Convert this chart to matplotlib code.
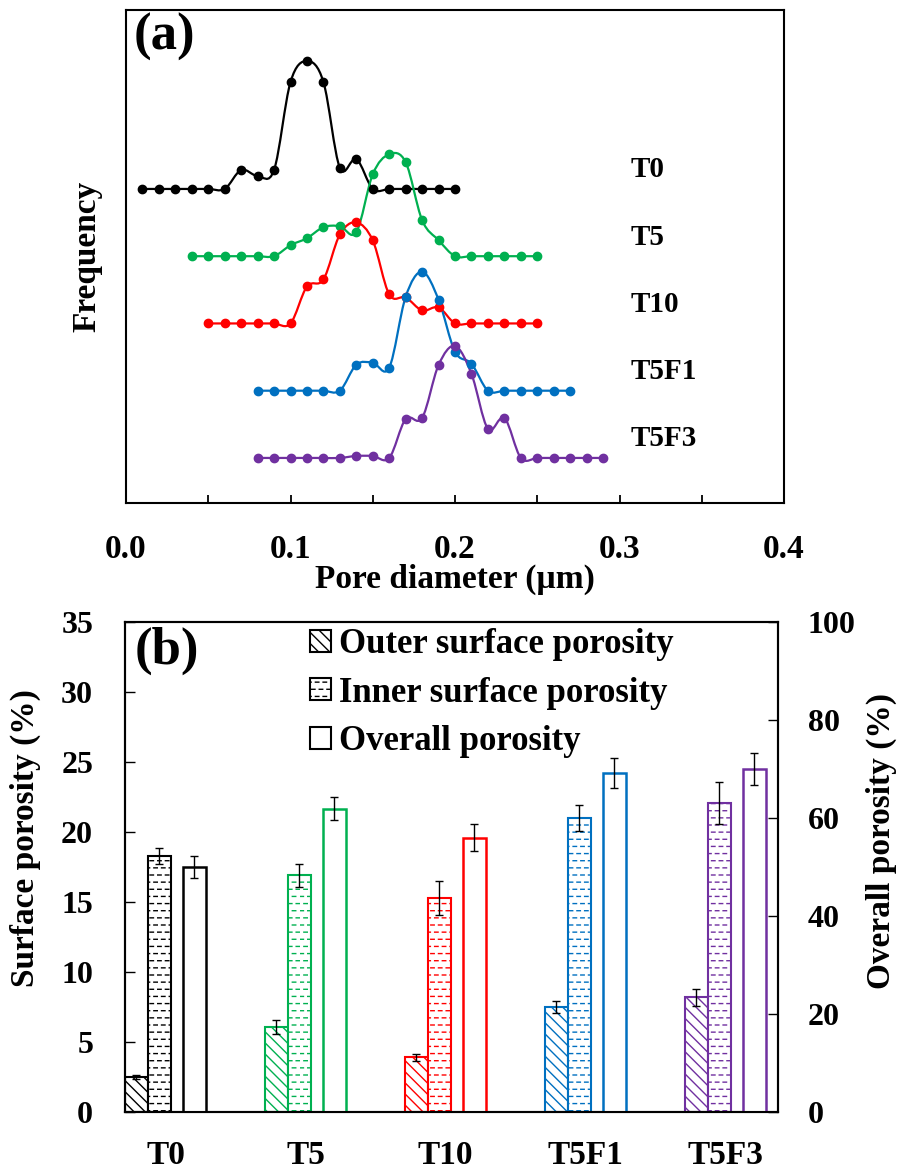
import numpy as np
import matplotlib
matplotlib.use('Agg')
from matplotlib import pyplot as plt
import matplotlib.hatch as mhatch
from matplotlib.path import Path
from matplotlib.patches import PathPatch, Patch

plt.rcParams['font.family'] = ['Liberation Serif', 'DejaVu Serif']
plt.rcParams['font.weight'] = 'bold'
plt.rcParams['axes.labelweight'] = 'bold'
plt.rcParams['hatch.linewidth'] = 1.0

# ---------------- panel (a): pore size distribution ----------------
samples = ['T0', 'T5', 'T10', 'T5F1', 'T5F3']
colors = ['#000000', '#00B050', '#FF0000', '#0070C0', '#7030A0']

d_T0 = [0.01, 0.02, 0.03, 0.04, 0.05, 0.06, 0.07, 0.08, 0.09, 0.10,
        0.11, 0.12, 0.13, 0.14, 0.15, 0.16, 0.17, 0.18, 0.19, 0.20]
f_T0 = [0, 0, 0, 0, 0, 0, 19, 13, 19, 107, 128, 107, 21, 30, 0, 0, 0, 0, 0, 0]

d_T5 = [0.04, 0.05, 0.06, 0.07, 0.08, 0.09, 0.10, 0.11, 0.12, 0.13, 0.14,
        0.15, 0.16, 0.17, 0.18, 0.19, 0.20, 0.21, 0.22, 0.23, 0.24, 0.25]
f_T5 = [0, 0, 0, 0, 0, 0, 11, 18, 29, 30, 24, 82, 102, 94, 36, 16, 0, 0, 0, 0, 0, 0]

d_T10 = [0.05, 0.06, 0.07, 0.08, 0.09, 0.10, 0.11, 0.12, 0.13, 0.14, 0.15,
         0.16, 0.17, 0.18, 0.19, 0.20, 0.21, 0.22, 0.23, 0.24, 0.25]
f_T10 = [0, 0, 0, 0, 0, 0, 37, 44, 89, 101, 83, 29, 26, 13, 16, 0, 0, 0, 0, 0, 0]

d_T5F1 = [0.08, 0.09, 0.10, 0.11, 0.12, 0.13, 0.14, 0.15, 0.16, 0.17,
          0.18, 0.19, 0.20, 0.21, 0.22, 0.23, 0.24, 0.25, 0.26, 0.27]
f_T5F1 = [0, 0, 0, 0, 0, 0, 26, 28, 23, 94, 119, 91, 39, 27, 0, 0, 0, 0, 0, 0]

d_T5F3 = [0.08, 0.09, 0.10, 0.11, 0.12, 0.13, 0.14, 0.15, 0.16, 0.17, 0.18,
          0.19, 0.20, 0.21, 0.22, 0.23, 0.24, 0.25, 0.26, 0.27, 0.28, 0.29]
f_T5F3 = [0, 0, 0, 0, 0, 0, 2, 2, 0, 39, 40, 93, 112, 84, 29, 40, 0, 0, 0, 0, 0, 0]

diameters = [d_T0, d_T5, d_T10, d_T5F1, d_T5F3]
freqs = [f_T0, f_T5, f_T10, f_T5F1, f_T5F3]
offsets = [314, 246.75, 179.5, 112.25, 45]

# ---------------- panel (b): porosity ----------------
outer = [2.5, 6.1, 3.9, 7.5, 8.2]
outer_err = [0.15, 0.5, 0.25, 0.45, 0.6]
inner = [18.3, 16.9, 15.3, 21.0, 22.1]
inner_err = [0.55, 0.8, 1.2, 0.95, 1.5]
overall = [50.0, 61.9, 56.0, 69.2, 70.0]
overall_err = [2.2, 2.4, 2.8, 3.0, 3.2]


# dashed horizontal hatch (like the office "dashed horizontal" pattern)
class DashRows(mhatch.HatchPatternBase):
    def __init__(self, hatch, density):
        self.num_rows = int(round(hatch.count('-') * density * 1.2))
        if self.num_rows % 2:
            self.num_rows += 1
        self.num_dash = 13
        self.num_lines = self.num_rows * self.num_dash if self.num_rows else 0
        self.num_vertices = self.num_lines * 2

    def set_vertices_and_codes(self, vertices, codes):
        m = self.num_dash
        i = 0
        for r in range(self.num_rows):
            yy = (r + 0.5) / self.num_rows
            shift = 0.5 * (r % 2)
            for k in range(m):
                x0 = (k + shift) / m
                vertices[i] = (x0, yy)
                vertices[i + 1] = (x0 + 0.45 / m, yy)
                codes[i] = Path.MOVETO
                codes[i + 1] = Path.LINETO
                i += 2


mhatch._hatch_types = [DashRows if t is mhatch.HorizontalHatch else t
                       for t in mhatch._hatch_types]


def smooth_path(x, y):
    # smoothed line through the points (cubic bezier, catmull-rom style)
    pts = np.column_stack([x, y]).astype(float)
    n = len(pts)
    verts = [pts[0]]
    codes = [Path.MOVETO]
    for i in range(n - 1):
        p0 = pts[i - 1] if i > 0 else pts[i]
        p1 = pts[i]
        p2 = pts[i + 1]
        p3 = pts[i + 2] if i + 2 < n else pts[i + 1]
        verts += [p1 + (p2 - p0) / 6, p2 - (p3 - p1) / 6, p2]
        codes += [Path.CURVE4] * 3
    return Path(verts, codes)


fig = plt.figure(figsize=(9.04, 11.71), dpi=100)

ax = fig.add_axes([0.1394, 0.5705, 0.7279, 0.4210])
for name, c, d, f, off in zip(samples, colors, diameters, freqs, offsets):
    yy = np.array(f) + off
    ax.add_patch(PathPatch(smooth_path(d, yy), facecolor='none', edgecolor=c, lw=1.6))
    ax.plot(d, yy, 'o', color=c, ms=6, ls='none')
    ax.text(0.307, off + 19, name, fontsize=21, ha='left', va='center')

ax.set_xlim(0, 0.4)
ax.set_ylim(0, 493)
ax.set_xticks([0.0, 0.1, 0.2, 0.3, 0.4])
ax.set_xticklabels(['0.0', '0.1', '0.2', '0.3', '0.4'])
ax.set_xticks([0.05, 0.15, 0.25, 0.35], minor=True)
ax.set_yticks([])
ax.tick_params(axis='x', which='both', direction='in', length=6, width=1.3,
               labelsize=24, pad=22)
ax.set_xlabel('Pore diameter (µm)', fontsize=24)
ax.xaxis.set_label_coords(0.5, -0.124)
ax.set_ylabel('Frequency', fontsize=24)
ax.yaxis.set_label_coords(-0.036, 0.5)
for s in ax.spines.values():
    s.set_linewidth(1.5)
ax.text(0.011, 0.995, '(a)', transform=ax.transAxes, fontsize=38, ha='left', va='top')

# ---------------- panel (b) ----------------
axb = fig.add_axes([0.1383, 0.0504, 0.7223, 0.4184])
ax2 = axb.twinx()
pos = np.arange(len(samples))
w = 0.165

axb.bar(pos - 0.21, outer, w, facecolor='white', edgecolor=colors, hatch='\\\\\\', lw=1.5)
axb.bar(pos - 0.045, inner, w, facecolor='white', edgecolor=colors, hatch='--', lw=1.5)
axb.errorbar(pos - 0.21, outer, yerr=outer_err, fmt='none', ecolor='black',
             elinewidth=1, capsize=3, capthick=1)
axb.errorbar(pos - 0.045, inner, yerr=inner_err, fmt='none', ecolor='black',
             elinewidth=1, capsize=3, capthick=1)
ax2.bar(pos + 0.205, overall, w, facecolor='white', edgecolor=colors, lw=1.8)
ax2.errorbar(pos + 0.205, overall, yerr=overall_err, fmt='none', ecolor='black',
             elinewidth=1, capsize=3, capthick=1)

axb.set_xlim(-0.289, 4.375)
axb.set_ylim(0, 35)
axb.set_yticks(np.arange(0, 36, 5))
ax2.set_ylim(0, 100)
ax2.set_yticks(np.arange(0, 101, 20))
axb.set_xticks(pos + 0.0)
axb.set_xticklabels(samples)
axb.tick_params(axis='x', length=0, labelsize=24, pad=20)
axb.tick_params(axis='y', direction='in', length=7, width=1, labelsize=23, pad=23)
ax2.tick_params(axis='y', direction='in', length=7, width=1, labelsize=23, pad=21.5)
for a in (axb, ax2):
    for s in a.spines.values():
        s.set_linewidth(1.5)

axb.set_ylabel('Surface porosity (%)', fontsize=24)
axb.yaxis.set_label_coords(-0.128, 0.559)
ax2.set_ylabel('Overall porosity (%)', fontsize=24)
ax2.yaxis.set_label_coords(1.135, 0.553)
axb.text(0.015, 0.99, '(b)', transform=axb.transAxes, fontsize=38, ha='left', va='top')

handles = [Patch(facecolor='white', edgecolor='black', hatch='\\\\\\', lw=1.5),
           Patch(facecolor='white', edgecolor='black', hatch='--', lw=1.5),
           Patch(facecolor='white', edgecolor='black', lw=1.5)]
ax2.legend(handles, ['Outer surface porosity', 'Inner surface porosity', 'Overall porosity'],
           loc='upper left', bbox_to_anchor=(0.283, 0.988), frameon=False, fontsize=25,
           handlelength=0.6, handleheight=0.6, handletextpad=0.25, labelspacing=0.45,
           borderpad=0, borderaxespad=0)

fig.savefig('out.png', dpi=100)
